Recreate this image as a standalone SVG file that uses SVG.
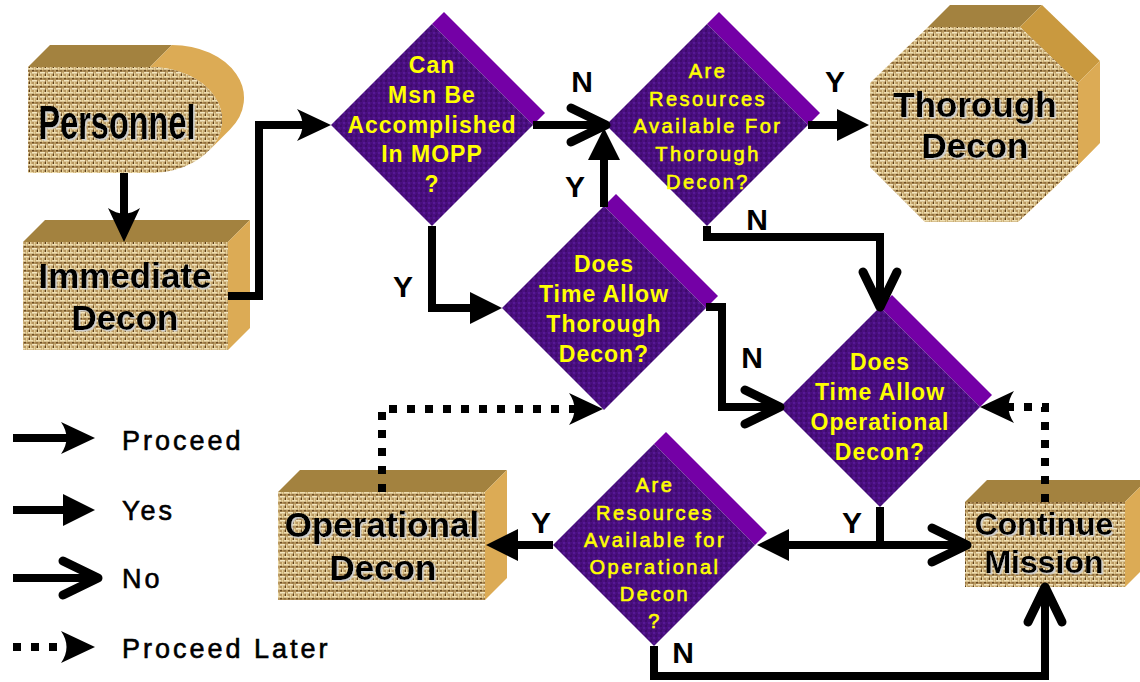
<svg xmlns="http://www.w3.org/2000/svg" width="1140" height="682" viewBox="0 0 1140 682">
<defs>
<pattern id="burlap" width="8" height="8" patternUnits="userSpaceOnUse">
<rect width="8" height="8" fill="#b8975f"/>
<rect x="0" y="0" width="5" height="1.6" fill="#f3e6c0"/>
<rect x="4" y="4" width="4" height="1.6" fill="#efdfb2"/>
<rect x="0" y="4" width="1.5" height="1.6" fill="#efdfb2"/>
<rect x="6" y="0.5" width="1.4" height="3.5" fill="#e8d4a0"/>
<rect x="2" y="2" width="1.4" height="4" fill="#e6d09a"/>
<rect x="5" y="1.6" width="1" height="2.4" fill="#5a3e1c"/>
<rect x="0" y="6" width="2" height="1.4" fill="#6b4b22"/>
<rect x="3.5" y="6.4" width="2.5" height="1" fill="#7a5828"/>
</pattern>
<pattern id="purp" width="5" height="5" patternUnits="userSpaceOnUse">
<rect width="5" height="5" fill="#4a0f80"/>
<rect x="0" y="0" width="2" height="2" fill="#3e0a6c"/>
<rect x="3" y="2" width="2" height="2" fill="#571896"/>
<rect x="1" y="3.5" width="1.5" height="1.5" fill="#400b72"/>
</pattern>
<marker id="mBarb" viewBox="-45 -25 70 50" markerWidth="70" markerHeight="50" refX="0" refY="0" orient="auto" markerUnits="userSpaceOnUse" overflow="visible"><path d="M14,0 L-20,-16 Q-9,0 -20,16 Z" fill="#000"/></marker>
<marker id="mFill" viewBox="-45 -25 70 50" markerWidth="70" markerHeight="50" refX="0" refY="0" orient="auto" markerUnits="userSpaceOnUse" overflow="visible"><path d="M14,0 L-18,-16 L-18,16 Z" fill="#000"/></marker>
<marker id="mOpen" viewBox="-45 -25 70 50" markerWidth="70" markerHeight="50" refX="0" refY="0" orient="auto" markerUnits="userSpaceOnUse" overflow="visible"><path d="M-32,-17 L3,0 L-32,17" fill="none" stroke="#000" stroke-width="9" stroke-linecap="round" stroke-linejoin="round"/></marker>
<filter id="tsh" x="-5%" y="-15%" width="115%" height="140%"><feDropShadow dx="1.5" dy="1.5" stdDeviation="0.4" flood-color="#d0d0d0"/></filter>
</defs>
<style>
.conn{fill:none;stroke:#000;stroke-width:8;stroke-linejoin:miter}
.dot{fill:none;stroke:#000;stroke-width:8;stroke-dasharray:8 10}
.front{fill:url(#burlap)}
.top{fill:#a3823f}
.side{fill:#dcab55}
.side2{fill:#c9993f}
.dia{fill:url(#purp)}
.band{fill:#7400a6}
.bt{font-family:"Liberation Sans",Arial,sans-serif;font-weight:bold;fill:#000;text-anchor:middle;filter:url(#tsh)}
.qb{font-family:"Liberation Sans",Arial,sans-serif;font-weight:bold;font-size:23px;fill:#ffff00;text-anchor:middle;letter-spacing:1px}
.qr{font-family:"Liberation Sans",Arial,sans-serif;font-weight:normal;font-size:20px;fill:#ffff00;stroke:#ffff00;stroke-width:0.6px;text-anchor:middle;letter-spacing:2.5px}
.lbl{font-family:"Liberation Sans",Arial,sans-serif;font-weight:bold;font-size:30px;fill:#000;text-anchor:middle}
.leg{font-family:"Liberation Sans",Arial,sans-serif;font-size:27px;fill:#000;stroke:#000;stroke-width:0.6px;letter-spacing:3px}
</style>
<rect width="1140" height="682" fill="#fff"/>

<g id="personnel">
<path class="top" d="M28,67 L50,45 H172 L150,67 Z"/>
<path class="side" d="M150,67 L172,45 A72,53 0 0 1 230,129.4 L208,151.4 A72,53 0 0 0 150,67 Z"/>
<path class="front" d="M28,67 H150 A72,53 0 0 1 150,173 H28 Z"/>
<text class="bt" x="117" y="139" font-size="48" textLength="157" lengthAdjust="spacingAndGlyphs">Personnel</text>
</g>

<g id="immediate-decon">
<polygon class="top" points="23,242 45,220 250,220 228,242"/>
<polygon class="side" points="228,242 250,220 250,328 228,350"/>
<rect class="front" x="23" y="242" width="205" height="108"/>
<text class="bt" x="125" y="288" font-size="35">Immediate</text>
<text class="bt" x="125" y="330" font-size="35">Decon</text>
</g>

<g id="thorough-decon">
<polygon class="top" points="928,27 950,5 1042,5 1020,27"/>
<polygon class="side2" points="1020,27 1042,5 1100,61 1078,83"/>
<polygon class="side" points="1078,83 1100,61 1100,143 1078,165"/>
<polygon class="side" points="1078,165 1100,143 1040,200 1018,222"/>
<polygon class="front" points="928,27 1020,27 1078,83 1078,165 1018,222 925,222 870,167 870,83"/>
<text class="bt" x="975" y="117" font-size="35">Thorough</text>
<text class="bt" x="975" y="158" font-size="35">Decon</text>
</g>

<g id="operational-decon">
<polygon class="top" points="278,492 300,470 507,470 485,492"/>
<polygon class="side" points="485,492 507,470 507,578 485,600"/>
<rect class="front" x="278" y="492" width="207" height="108"/>
<text class="bt" x="382" y="537" font-size="35">Operational</text>
<text class="bt" x="383" y="580" font-size="35">Decon</text>
</g>

<g id="continue-mission">
<polygon class="top" points="965,502 987,480 1147,480 1125,502"/>
<polygon class="side" points="1125,502 1147,480 1147,565 1125,587"/>
<rect class="front" x="965" y="502" width="160" height="85"/>
<text class="bt" x="1044" y="535" font-size="32">Continue</text>
<text class="bt" x="1044" y="573" font-size="32">Mission</text>
</g>

<g id="q-msn-mopp">
<polygon class="band" points="432,24 444,12 545,113 533,125"/>
<polygon class="dia" points="432,24 533,125 432,226 331,125"/>
<text class="qb" x="432" y="73">Can</text>
<text class="qb" x="432" y="103">Msn Be</text>
<text class="qb" x="432" y="133">Accomplished</text>
<text class="qb" x="432" y="162">In MOPP</text>
<text class="qb" x="432" y="192">?</text>
</g>

<g id="q-resources-thorough">
<polygon class="band" points="707,24 719,12 820,113 808,125"/>
<polygon class="dia" points="707,24 808,125 707,226 606,125"/>
<text class="qr" x="708" y="78">Are</text>
<text class="qr" x="708" y="106">Resources</text>
<text class="qr" x="708" y="133">Available For</text>
<text class="qr" x="708" y="161">Thorough</text>
<text class="qr" x="708" y="189">Decon?</text>
</g>

<g id="q-time-thorough">
<polygon class="band" points="604,206 616,194 718,296 706,308"/>
<polygon class="dia" points="604,206 706,308 604,410 502,308"/>
<text class="qb" x="604" y="272">Does</text>
<text class="qb" x="604" y="302">Time Allow</text>
<text class="qb" x="604" y="332">Thorough</text>
<text class="qb" x="604" y="362">Decon?</text>
</g>

<g id="q-time-operational">
<polygon class="band" points="880,307 892,295 992,395 980,407"/>
<polygon class="dia" points="880,307 980,407 880,507 780,407"/>
<text class="qb" x="880" y="370">Does</text>
<text class="qb" x="880" y="400">Time Allow</text>
<text class="qb" x="880" y="430">Operational</text>
<text class="qb" x="880" y="460">Decon?</text>
</g>

<g id="q-resources-operational">
<polygon class="band" points="654,444 666,432 767,533 755,545"/>
<polygon class="dia" points="654,444 755,545 654,646 553,545"/>
<text class="qr" x="655" y="492">Are</text>
<text class="qr" x="655" y="520">Resources</text>
<text class="qr" x="655" y="547">Available for</text>
<text class="qr" x="655" y="574">Operational</text>
<text class="qr" x="655" y="601">Decon</text>
<text class="qr" x="655" y="628">?</text>
</g>

<g id="connectors">
<path class="conn" d="M124,173 V228" marker-end="url(#mBarb)"/>
<path class="conn" d="M228,296 H259 V125 H317" marker-end="url(#mBarb)"/>
<path class="conn" d="M533,125 H603" marker-end="url(#mOpen)"/>
<path class="conn" d="M604,207 V142" marker-end="url(#mFill)"/>
<path class="conn" d="M432,226 V308 H488" marker-end="url(#mFill)"/>
<path class="conn" d="M808,125 H855" marker-end="url(#mFill)"/>
<path class="conn" d="M707,226 V237 H880 V304" marker-end="url(#mOpen)"/>
<path class="conn" d="M706,307 H722 V407 H777" marker-end="url(#mOpen)"/>
<path class="dot" d="M382,492 V409 H589" marker-end="url(#mBarb)"/>
<path class="dot" d="M1045,502 V407 H994" marker-end="url(#mBarb)"/>
<path class="conn" d="M880,507 V545"/>
<path class="conn" d="M880,545 H771" marker-end="url(#mFill)"/>
<path class="conn" d="M880,545 H964" marker-end="url(#mOpen)"/>
<path class="conn" d="M553,545 H500" marker-end="url(#mFill)"/>
<path class="conn" d="M654,646 V676 H1045 V590" marker-end="url(#mOpen)"/>
<text class="lbl" x="582" y="92">N</text>
<text class="lbl" x="575" y="197">Y</text>
<text class="lbl" x="835" y="92">Y</text>
<text class="lbl" x="757" y="230">N</text>
<text class="lbl" x="403" y="297">Y</text>
<text class="lbl" x="752" y="368">N</text>
<text class="lbl" x="852" y="533">Y</text>
<text class="lbl" x="541" y="533">Y</text>
<text class="lbl" x="683" y="663">N</text>
</g>

<g id="legend">
<path class="conn" d="M13,438 H81" marker-end="url(#mBarb)"/>
<path class="conn" d="M13,510 H81" marker-end="url(#mFill)"/>
<path class="conn" d="M13,578 H95" marker-end="url(#mOpen)"/>
<path class="dot" d="M13,647 H81" marker-end="url(#mBarb)"/>
<text class="leg" x="122" y="450">Proceed</text>
<text class="leg" x="122" y="520">Yes</text>
<text class="leg" x="122" y="588">No</text>
<text class="leg" x="122" y="658">Proceed Later</text>
</g>
</svg>
